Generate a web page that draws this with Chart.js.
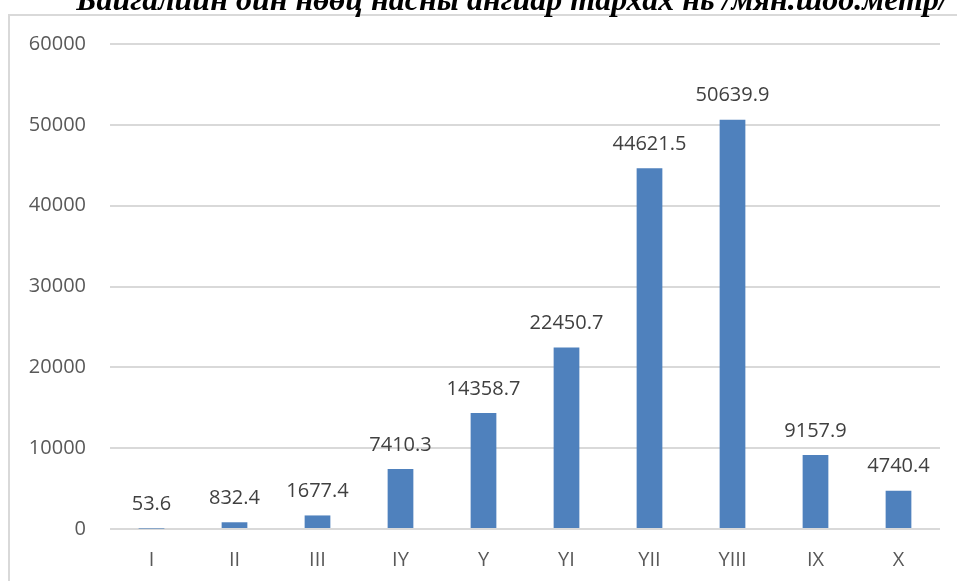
<!DOCTYPE html>
<html>
<head>
<meta charset="utf-8">
<script src="https://cdn.jsdelivr.net/npm/chart.js@4/dist/chart.umd.min.js"></script>
<style>
  html, body { margin: 0; padding: 0; background: #fff; overflow: hidden; }
  #frame {
    position: absolute; left: 8px; top: 14px; width: 1000px; height: 600px;
    border: 2px solid #d9d9d9; box-sizing: border-box;
  }
  #title {
    position: absolute; left: 0; top: -19px; width: 1024px; text-align: center;
    font: italic bold 32px "Liberation Serif", serif; color: #000; white-space: nowrap;
    z-index: 2;
  }
  #wrap { position: absolute; left: 0; top: 0; width: 957px; height: 584px; }
</style>
</head>
<body>
<div id="frame"></div>
<div id="wrap"><canvas id="chartAge"></canvas></div>
<div id="title">Байгалийн ойн нөөц насны ангиар тархах нь /мян.шоо.метр/</div>
<script>
// =========================
// DATA
// =========================
const ageClasses = ["I", "II", "III", "IY", "Y", "YI", "YII", "YIII", "IX", "X"];
const volumes = [53.6, 832.4, 1677.4, 7410.3, 14358.7, 22450.7, 44621.5, 50639.9, 9157.9, 4740.4];
const yTicks = [0, 10000, 20000, 30000, 40000, 50000, 60000];

// value labels above bars
const valueLabels = {
    id: "valueLabels",
    afterDatasetsDraw(chart) {
        const ctx = chart.ctx;
        const meta = chart.getDatasetMeta(0);
        ctx.save();
        ctx.font = "20px 'Open Sans'";
        ctx.fillStyle = "#404040";
        ctx.textAlign = "center";
        ctx.textBaseline = "middle";
        meta.data.forEach(function (bar, i) {
            ctx.fillText(String(volumes[i]), bar.x, bar.y - 24);
        });
        ctx.restore();
    }
};

new Chart(document.getElementById("chartAge"), {
    type: "bar",
    data: {
        labels: ageClasses,
        datasets: [{
            data: volumes,
            backgroundColor: "#4f81bd",
            barPercentage: 0.62,
            categoryPercentage: 0.5
        }]
    },
    options: {
        responsive: true,
        maintainAspectRatio: false,
        animation: false,
        layout: { padding: { top: 44, right: 17, bottom: 1, left: 28 } },
        plugins: {
            legend: { display: false },
            tooltip: { enabled: false }
        },
        scales: {
            x: {
                grid: { display: false },
                border: { display: false },
                ticks: { font: { family: "Open Sans", size: 20 }, color: "#595959", padding: 11 }
            },
            y: {
                min: 0,
                max: 60000,
                afterBuildTicks(axis) { axis.ticks = yTicks.map(v => ({ value: v })); },
                afterFit(axis) { axis.width = 82; },
                grid: { color: "#d9d9d9", lineWidth: 2, drawTicks: false },
                border: { display: false },
                ticks: {
                    font: { family: "Open Sans", size: 20 },
                    color: "#595959",
                    padding: 24,
                    callback: v => String(v)
                }
            }
        }
    },
    plugins: [valueLabels]
});
</script>
</body>
</html>
